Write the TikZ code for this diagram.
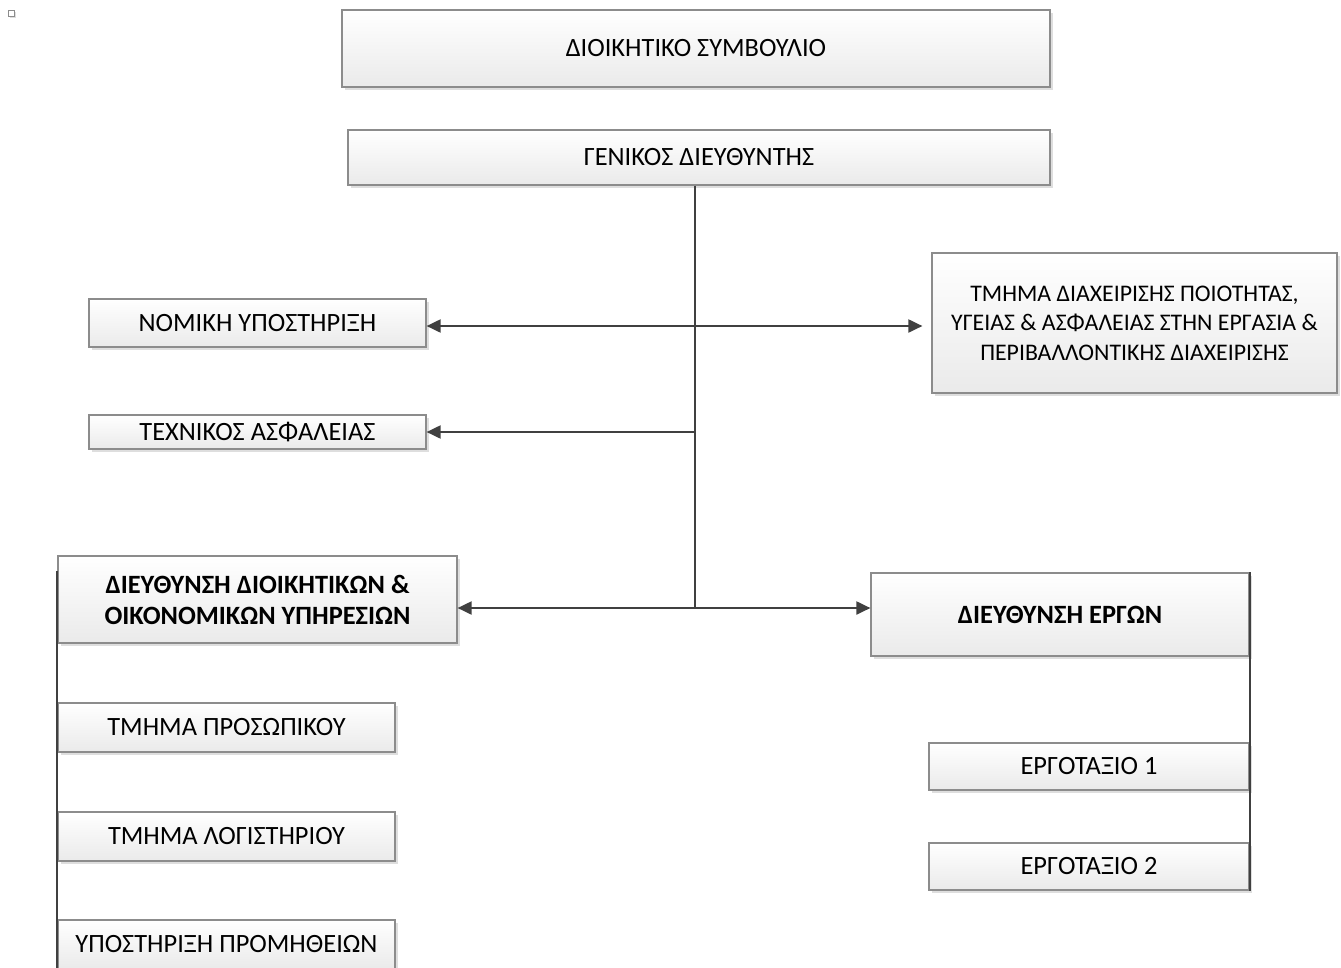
\documentclass[tikz,border=0pt]{standalone}
\usepackage{fontspec}
\setmainfont{Carlito}
\usetikzlibrary{arrows.meta,shadows}
\definecolor{boxline}{HTML}{8C8C8C}
\definecolor{boxfill}{HTML}{EAEAEA}
\definecolor{wirecol}{HTML}{404040}

\begin{document}
\begin{tikzpicture}[x=1pt,y=-1pt,
	orgbox/.style={draw=boxline, line width=1.2pt, top color=white, bottom color=boxfill,
		drop shadow={shadow xshift=3pt, shadow yshift=-3pt, fill=black!13, opacity=1}},
	boldtext/.style={font=\fontsize{26.4}{31}\selectfont\bfseries},
	smalltext/.style={font=\fontsize{23.8}{29.5}\selectfont},
	wire/.style={draw=wirecol, line width=2pt},
	arrowline/.style={-{Triangle[length=14pt,width=13pt]}}]
	\tikzstyle{every node}+=[inner sep=0pt, align=center, font=\fontsize{26.4}{31}\selectfont]
	\useasboundingbox (0,0) rectangle (1341,967);
	\clip (0,0) rectangle (1341,967);
	\node [draw=boxline, line width=0.8pt, fill=white, minimum size=6pt,
		drop shadow={shadow xshift=1.5pt, shadow yshift=-1.5pt, fill=black!13, opacity=1}] (sq) at (11,13) {};
	\node [orgbox, minimum width=708, minimum height=77] (ds) at (696,48.5) {ΔΙΟΙΚΗΤΙΚΟ ΣΥΜΒΟΥΛΙΟ};
	\node [orgbox, minimum width=702, minimum height=55] (gd) at (699,157.5) {ΓΕΝΙΚΟΣ ΔΙΕΥΘΥΝΤΗΣ};
	\node [orgbox, minimum width=337, minimum height=48] (nom) at (257.5,323) {ΝΟΜΙΚΗ ΥΠΟΣΤΗΡΙΞΗ};
	\node [orgbox, minimum width=337, minimum height=34] (tex) at (257.5,432) {ΤΕΧΝΙΚΟΣ ΑΣΦΑΛΕΙΑΣ};
	\node [orgbox, smalltext, minimum width=405, minimum height=140] (poi) at (1134.5,323) {ΤΜΗΜΑ ΔΙΑΧΕΙΡΙΣΗΣ ΠΟΙΟΤΗΤΑΣ,\\ΥΓΕΙΑΣ \& ΑΣΦΑΛΕΙΑΣ ΣΤΗΝ ΕΡΓΑΣΙΑ \&\\ΠΕΡΙΒΑΛΛΟΝΤΙΚΗΣ ΔΙΑΧΕΙΡΙΣΗΣ};
	\node [orgbox, boldtext, minimum width=399, minimum height=87] (ddoy) at (257.5,599.5) {ΔΙΕΥΘΥΝΣΗ ΔΙΟΙΚΗΤΙΚΩΝ \&\\ΟΙΚΟΝΟΜΙΚΩΝ ΥΠΗΡΕΣΙΩΝ};
	\node [orgbox, boldtext, minimum width=378, minimum height=83] (erga) at (1060,614.5) {ΔΙΕΥΘΥΝΣΗ ΕΡΓΩΝ};
	\node [orgbox, minimum width=337, minimum height=49] (pros) at (226.5,727.5) {ΤΜΗΜΑ ΠΡΟΣΩΠΙΚΟΥ};
	\node [orgbox, minimum width=337, minimum height=49] (logi) at (226.5,836.5) {ΤΜΗΜΑ ΛΟΓΙΣΤΗΡΙΟΥ};
	\node [orgbox, minimum width=337, minimum height=49] (prom) at (226.5,944.5) {ΥΠΟΣΤΗΡΙΞΗ ΠΡΟΜΗΘΕΙΩΝ};
	\node [orgbox, minimum width=320, minimum height=47] (erg1) at (1089,766.5) {ΕΡΓΟΤΑΞΙΟ 1};
	\node [orgbox, minimum width=320, minimum height=47] (erg2) at (1089,866.5) {ΕΡΓΟΤΑΞΙΟ 2};
	\coordinate (j1) at (695,326);
	\coordinate (j2) at (695,432);
	\coordinate (j3) at (695,608);
	\draw [wire] (j3 |- gd.south) -- (j3);
	\draw [wire, arrowline] (j1) -- (j1 -| nom.east);
	\draw [wire, arrowline, shorten >=9pt] (j1) -- (j1 -| poi.west);
	\draw [wire, arrowline] (j2) -- (j2 -| tex.east);
	\draw [wire, arrowline] (j3) -- (j3 -| ddoy.east);
	\draw [wire, arrowline] (j3) -- (j3 -| erga.west);
	\draw [wire] ([yshift=-16pt]ddoy.north west) -- (prom.south west);
	\draw [wire] (erga.north east) -- (erg2.south east);
\end{tikzpicture}
\end{document}
